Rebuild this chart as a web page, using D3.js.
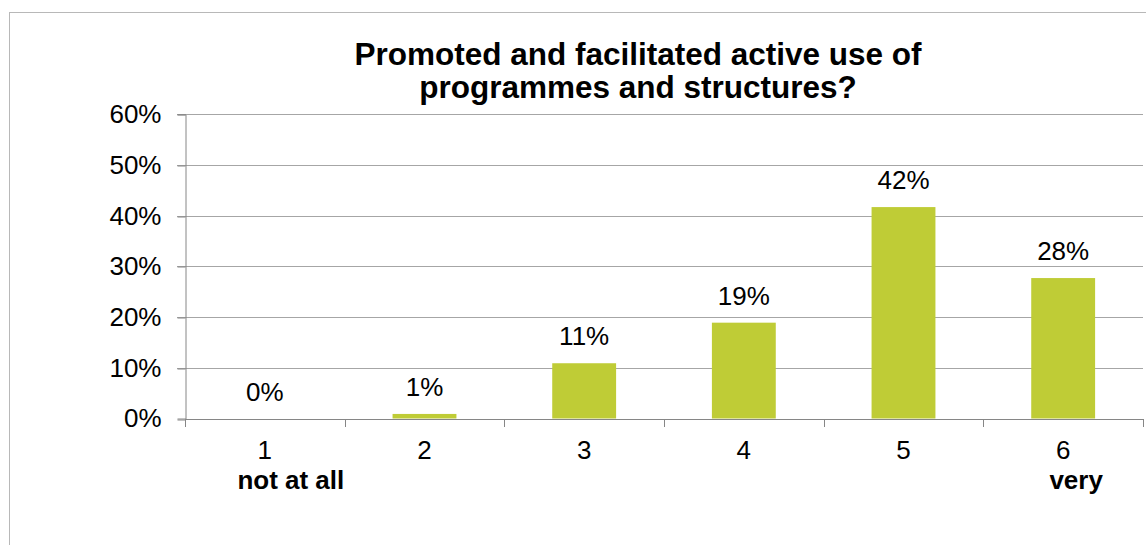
<!DOCTYPE html>
<html>
<head>
<meta charset="utf-8">
<script src="https://cdn.jsdelivr.net/npm/d3@7"></script>
<style>
  html, body { margin: 0; padding: 0; background: #fff; }
  svg { display: block; font-family: "Liberation Sans", Arial, sans-serif; }
</style>
</head>
<body>
<svg id="chart" width="1146" height="545"></svg>
<script>
const categories = ["1", "2", "3", "4", "5", "6"];
const subLabels = ["not at all", "", "", "", "", "very"];
const values = [0, 0.009, 0.109, 0.189, 0.417, 0.277];
const yTicks = [0, 0.1, 0.2, 0.3, 0.4, 0.5, 0.6];
const titleLines = ["Promoted and facilitated active use of", "programmes and structures?"];

const svg = d3.select("#chart");
const plotLeft = 185, plotRight = 1143, plotTop = 114.3, plotBottom = 418.5;

// outer frame
svg.append("rect")
  .attr("x", 9.5).attr("y", 12.5)
  .attr("width", 1160).attr("height", 560)
  .attr("fill", "none").attr("stroke", "#b8b8b8").attr("stroke-width", 1);

const x = d3.scaleBand().domain(categories).range([plotLeft, plotRight]).padding(0);
const y = d3.scaleLinear().domain([0, 0.6]).range([plotBottom, plotTop]);

// gridlines
svg.append("g").selectAll("line")
  .data(yTicks.filter(t => t > 0))
  .join("line")
  .attr("x1", plotLeft - 8).attr("x2", plotRight)
  .attr("y1", d => Math.round(y(d)) + 0.5).attr("y2", d => Math.round(y(d)) + 0.5)
  .attr("stroke", "#a6a6a6").attr("stroke-width", 1);

// y axis
const yAxis = svg.append("g")
  .attr("transform", `translate(${plotLeft + 0.5},0)`)
  .call(d3.axisLeft(y).tickValues(yTicks).tickFormat(d3.format(".0%")).tickSize(8).tickPadding(16));
yAxis.select(".domain").attr("stroke", "#868686");
yAxis.selectAll(".tick line").attr("stroke", "#868686")
  .attr("transform", d => `translate(0,${Math.round(y(d)) + 0.5 - y(d)})`);
yAxis.selectAll(".tick text").attr("font-size", 26).attr("fill", "#000")
  .attr("font-family", "'Liberation Sans', Arial, sans-serif");

// bars
svg.append("g").selectAll("rect")
  .data(values)
  .join("rect")
  .attr("x", (d, i) => x(categories[i]) + x.bandwidth() * 0.3)
  .attr("width", x.bandwidth() * 0.4)
  .attr("y", d => y(d))
  .attr("height", d => y(0) - y(d))
  .attr("fill", "#bfcc36");

// x axis line
svg.append("line")
  .attr("x1", plotLeft).attr("x2", plotRight)
  .attr("y1", Math.round(plotBottom) + 0.5).attr("y2", Math.round(plotBottom) + 0.5)
  .attr("stroke", "#868686");

// x boundary ticks
const bounds = categories.map(c => x(c)).concat([x(categories[categories.length - 1]) + x.bandwidth()]);
svg.append("g").selectAll("line")
  .data(bounds)
  .join("line")
  .attr("x1", d => Math.round(d) + 0.5).attr("x2", d => Math.round(d) + 0.5)
  .attr("y1", Math.round(plotBottom)).attr("y2", Math.round(plotBottom) + 8)
  .attr("stroke", "#868686");

// x labels
svg.append("g").selectAll("text")
  .data(categories)
  .join("text")
  .attr("x", d => x(d) + x.bandwidth() / 2)
  .attr("y", 459)
  .attr("text-anchor", "middle")
  .attr("font-size", 26)
  .text(d => d);

svg.append("g").selectAll("text")
  .data(subLabels)
  .join("text")
  .attr("x", (d, i) => x(categories[i]) + x.bandwidth() / 2 + (i === 0 ? 26 : 13))
  .attr("y", 489)
  .attr("text-anchor", "middle")
  .attr("font-size", 26)
  .attr("font-weight", "bold")
  .text(d => d);

// data labels
svg.append("g").selectAll("text")
  .data(values)
  .join("text")
  .attr("x", (d, i) => x(categories[i]) + x.bandwidth() / 2)
  .attr("y", d => y(d) - 18)
  .attr("text-anchor", "middle")
  .attr("font-size", 26)
  .text(d => d3.format(".0%")(d));

// title
svg.append("g").selectAll("text")
  .data(titleLines)
  .join("text")
  .attr("x", 638)
  .attr("y", (d, i) => 65 + i * 33)
  .attr("text-anchor", "middle")
  .attr("font-size", 31.5)
  .attr("font-weight", "bold")
  .text(d => d);
</script>
</body>
</html>
